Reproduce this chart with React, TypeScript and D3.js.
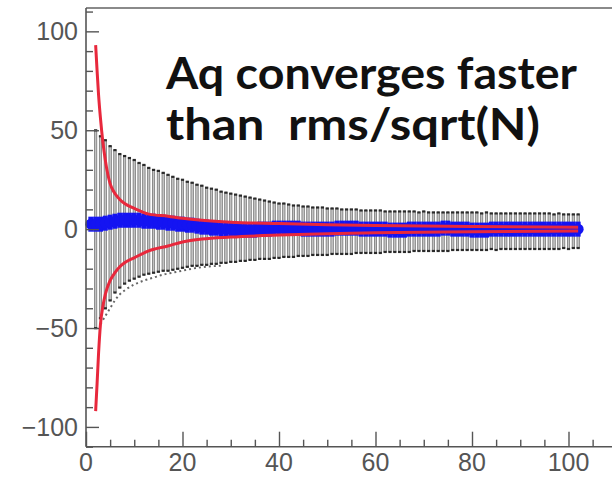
import React, { useEffect, useRef } from 'react';
import * as d3 from 'd3';

const W = 612;
const H = 480;

// number of events N for the black rms bars
const barN = [
  2, 3, 4, 5, 6, 7, 8, 9, 10, 11,
  12, 13, 14, 15, 16, 17, 18, 19, 20, 21,
  22, 23, 24, 25, 26, 27, 28, 29, 30, 31,
  32, 33, 34, 35, 36, 37, 38, 39, 40, 41,
  42, 43, 44, 45, 46, 47, 48, 49, 50, 51,
  52, 53, 54, 55, 56, 57, 58, 59, 60, 61,
  62, 63, 64, 65, 66, 67, 68, 69, 70, 71,
  72, 73, 74, 75, 76, 77, 78, 79, 80, 81,
  82, 83, 84, 85, 86, 87, 88, 89, 90, 91,
  92, 93, 94, 95, 96, 97, 98, 99, 100, 101,
  102
];
const barTop = [
  50, 47, 45, 42, 40, 38, 37, 36, 35, 33.5,
  32.5, 31, 30, 29.5, 28.5, 27.5, 26.5, 25.5, 25, 24,
  23.5, 22.5, 22, 21, 20.5, 20, 19, 18.5, 18, 17.5,
  17, 16.5, 16, 15.5, 15, 14.5, 14, 13.5, 13, 13,
  12.5, 12, 12, 11.5, 11.5, 11, 11, 11, 10.5, 10.5,
  10.5, 10, 10, 10, 10, 9.5, 9.5, 9.5, 9.5, 9.5,
  9, 9, 9, 9, 9, 9, 9, 8.5, 9, 8.5,
  8.5, 8.5, 8.5, 8.5, 8.5, 8.5, 8.5, 8.5, 8.5, 8.5,
  8, 8.5, 8, 8, 8, 8, 8, 8, 8, 8,
  8, 8, 8, 8, 8, 7.5, 8, 7.5, 7.5, 7.5,
  7.5
];
const barBottom = [
  -50, -45, -40, -36, -32, -29.5, -27.5, -26, -25, -24,
  -23, -22.5, -22, -21.5, -21, -21, -20.5, -20, -19.5, -19,
  -18.5, -18.5, -18, -18, -17.5, -17.5, -17, -17, -16.5, -16.5,
  -16, -16, -15.5, -15.5, -15, -15, -15, -14.5, -14.5, -14,
  -14, -14, -13.5, -13.5, -13.5, -13, -13, -13, -13, -12.5,
  -12.5, -12.5, -12.5, -12.5, -12, -12, -12, -12, -12, -12,
  -11.5, -11.5, -11.5, -11.5, -11.5, -11.5, -11, -11, -11, -11,
  -11, -11, -11, -11, -10.5, -10.5, -10.5, -10.5, -10.5, -10.5,
  -10.5, -10.5, -10, -10.5, -10, -10, -10, -10, -10, -10,
  -10, -10, -10, -10, -10, -10, -10, -9.5, -10, -9.5,
  -9.5
];

// dotted lower envelope
const dotN = [3, 4, 5, 6, 7, 8, 10, 12, 14, 16, 18, 20, 22, 25, 28];
const dotV = [-48, -44, -40, -36, -33, -31, -28, -26, -24.5, -23, -22, -21, -20, -19, -18.5];

// red curves (+/- rms/sqrt(N))
const redUpN = [2, 2.3, 2.6, 3, 3.5, 4, 4.5, 5, 6, 7, 8, 10, 13, 17, 20, 24, 30, 40, 50, 60, 80, 102];
const redUpV = [93, 80, 68, 56, 44, 35, 28, 23, 18, 15, 13, 10.5, 7.6, 6.5, 5.5, 4.5, 3.5, 2.8, 2.2, 1.8, 1.3, 1];
const redLoN = [2, 2.3, 2.6, 3, 3.5, 4, 5, 6, 7, 8, 10, 13, 17, 20, 24, 30, 40, 50, 60, 80, 102];
const redLoV = [-92, -78, -63, -48, -39, -33, -26, -22, -19, -17, -14.5, -11, -8.5, -6.5, -5, -4, -3, -2.3, -1.8, -1.3, -1];

// blue points (Aq)
const blueN = [
  1, 2, 3, 4, 5, 6, 7, 8, 9, 10,
  11, 12, 13, 14, 15, 16, 17, 18, 19, 20,
  21, 22, 23, 24, 25, 26, 27, 28, 29, 30,
  31, 32, 33, 34, 35, 36, 37, 38, 39, 40,
  41, 42, 43, 44, 45, 46, 47, 48, 49, 50,
  51, 52, 53, 54, 55, 56, 57, 58, 59, 60,
  61, 62, 63, 64, 65, 66, 67, 68, 69, 70,
  71, 72, 73, 74, 75, 76, 77, 78, 79, 80,
  81, 82, 83, 84, 85, 86, 87, 88, 89, 90,
  91, 92, 93, 94, 95, 96, 97, 98, 99, 100,
  101, 102
];
const blueV = [
  2.5, 2.5, 2.5, 3, 3.5, 4, 4.5, 4.5, 4.5, 4.5,
  4.5, 4, 4, 4, 3.5, 3.5, 3, 3, 2.5, 2.5,
  2, 2, 1.5, 1, 1, 0.5, 0.5, 0, 0, 0,
  -0.5, -0.5, -0.5, -0.5, -0.5, 0, 0, 0, 0.5, 0.5,
  0.5, 0.5, 0.5, 0.5, 0, 0, 0, 0, 0, 0,
  0, 0.5, 0.5, 0.5, 0.5, 0.5, 0, 0, 0, 0,
  0, 0, -0.5, -0.5, -0.5, -0.5, 0, 0, 0, 0,
  0, 0, 0, 0.5, 0.5, 0, 0, 0, 0, -0.5,
  -0.5, -0.5, -0.5, 0, 0, 0, 0, 0, 0, 0,
  0, 0, 0, 0, 0, 0, 0, 0, 0, 0,
  0, 0
];
const blueErr = 3.8;

const yMajor = [-100, -50, 0, 50, 100];
const yMinor = [-110, -90, -80, -70, -60, -40, -30, -20, -10, 10, 20, 30, 40, 60, 70, 80, 90, 110];
const xMajor = [0, 20, 40, 60, 80, 100];
const xMinor = [5, 10, 15, 25, 30, 35, 45, 50, 55, 65, 70, 75, 85, 90, 95, 105];

const title1 = 'Aq converges faster';
const title2 = 'than  rms/sqrt(N)';

export default function App() {
  const ref = useRef<SVGSVGElement>(null);

  useEffect(() => {
    document.body.style.margin = '0';
    const svg = d3.select(ref.current);
    svg.selectAll('*').remove();

    const left = 86, right = W, top = 8, bottom = 446.7;
    const x = d3.scaleLinear().domain([0, 109]).range([left, left + 109 * 4.825]);
    const y = d3.scaleLinear().domain([-110, 111.8]).range([bottom, top]);

    const g = svg.append('g');

    // rms bars
    const bars = barN.map((n, i) => ({ n, t: barTop[i], b: barBottom[i] }));
    g.selectAll('rect.bar').data(bars).enter().append('rect')
      .attr('class', 'bar')
      .attr('x', d => x(d.n) - 1.2)
      .attr('width', 2.4)
      .attr('y', d => y(d.t))
      .attr('height', d => y(d.b) - y(d.t))
      .attr('fill', '#c2c2c2')
      .attr('stroke', '#5a5a5a')
      .attr('stroke-width', 0.6);
    g.selectAll('rect.capT').data(bars).enter().append('rect')
      .attr('x', d => x(d.n) - 1.6)
      .attr('width', 3.2)
      .attr('y', d => y(d.t) - 1)
      .attr('height', 2.2)
      .attr('fill', '#2a2a2a');
    g.selectAll('rect.capB').data(bars).enter().append('rect')
      .attr('x', d => x(d.n) - 1.6)
      .attr('width', 3.2)
      .attr('y', d => y(d.b) - 1)
      .attr('height', 2.2)
      .attr('fill', '#2a2a2a');

    // dotted envelope
    const dotLine = d3.line<number>()
      .x((d, i) => x(dotN[i]))
      .y(d => y(d))
      .curve(d3.curveMonotoneX);
    g.append('path')
      .attr('d', dotLine(dotV))
      .attr('fill', 'none')
      .attr('stroke', '#666')
      .attr('stroke-width', 2)
      .attr('stroke-dasharray', '2,3');

    // blue points with errors
    const blue = blueN.map((n, i) => ({ n, v: blueV[i] }));
    g.selectAll('line.berr').data(blue).enter().append('line')
      .attr('x1', d => x(d.n)).attr('x2', d => x(d.n))
      .attr('y1', d => y(d.v + blueErr)).attr('y2', d => y(d.v - blueErr))
      .attr('stroke', '#1414f2')
      .attr('stroke-width', 5);
    g.selectAll('circle.bpt').data(blue).enter().append('circle')
      .attr('cx', d => x(d.n))
      .attr('cy', d => y(d.v))
      .attr('r', 5.5)
      .attr('fill', '#1414f2');

    // red curves
    const redUp = d3.line<number>().x((d, i) => x(redUpN[i])).y(d => y(d)).curve(d3.curveMonotoneX);
    const redLo = d3.line<number>().x((d, i) => x(redLoN[i])).y(d => y(d)).curve(d3.curveMonotoneX);
    [redUp(redUpV), redLo(redLoV)].forEach(p => {
      g.append('path')
        .attr('d', p)
        .attr('fill', 'none')
        .attr('stroke', '#e8283c')
        .attr('stroke-width', 3);
    });

    // frame
    svg.append('line')
      .attr('x1', left).attr('x2', right).attr('y1', top).attr('y2', top)
      .attr('stroke', '#8a8a8a').attr('stroke-width', 2);
    svg.append('line')
      .attr('x1', left).attr('x2', left).attr('y1', top).attr('y2', bottom)
      .attr('stroke', '#555').attr('stroke-width', 1.6);
    svg.append('line')
      .attr('x1', left).attr('x2', right).attr('y1', bottom).attr('y2', bottom)
      .attr('stroke', '#555').attr('stroke-width', 1.6);

    // ticks (ROOT style, inward)
    const axisStyle = (sel: any) => {
      sel.select('.domain').remove();
      sel.selectAll('line').attr('stroke', '#555').attr('stroke-width', 1.4);
      sel.selectAll('text').remove();
    };
    svg.append('g').attr('transform', `translate(${left},0)`)
      .call(d3.axisRight(y).tickValues(yMajor).tickSize(13)).call(axisStyle);
    svg.append('g').attr('transform', `translate(${left},0)`)
      .call(d3.axisRight(y).tickValues(yMinor).tickSize(7)).call(axisStyle);
    svg.append('g').attr('transform', `translate(0,${bottom})`)
      .call(d3.axisTop(x).tickValues(xMajor).tickSize(15)).call(axisStyle);
    svg.append('g').attr('transform', `translate(0,${bottom})`)
      .call(d3.axisTop(x).tickValues(xMinor).tickSize(7)).call(axisStyle);

    const fmt = d3.format('d');
    svg.selectAll('text.ylab').data(yMajor).enter().append('text')
      .attr('x', 78)
      .attr('y', d => y(d))
      .attr('dy', '0.35em')
      .attr('text-anchor', 'end')
      .attr('font-family', 'Liberation Sans, Arial, sans-serif')
      .attr('font-size', 25)
      .attr('fill', '#555')
      .text(d => fmt(d));
    svg.selectAll('text.xlab').data(xMajor).enter().append('text')
      .attr('x', d => x(d))
      .attr('y', 471)
      .attr('text-anchor', 'middle')
      .attr('font-family', 'Liberation Sans, Arial, sans-serif')
      .attr('font-size', 25)
      .attr('fill', '#555')
      .text(d => fmt(d));

    // annotation
    const ann = [
      { t: title1, yb: 89, len: 411 },
      { t: title2, yb: 140, len: 374 }
    ];
    svg.selectAll('text.ann').data(ann).enter().append('text')
      .attr('x', 166)
      .attr('y', d => d.yb)
      .attr('font-family', 'Lato, "Open Sans", sans-serif')
      .attr('font-weight', 'bold')
      .attr('font-size', 44)
      .attr('fill', '#111')
      .attr('textLength', d => d.len)
      .attr('lengthAdjust', 'spacingAndGlyphs')
      .style('white-space', 'pre')
      .text(d => d.t);
  }, []);

  return (
    <div>
      <svg ref={ref} width={W} height={H} style={{ display: 'block', background: '#fff' }} />
    </div>
  );
}
